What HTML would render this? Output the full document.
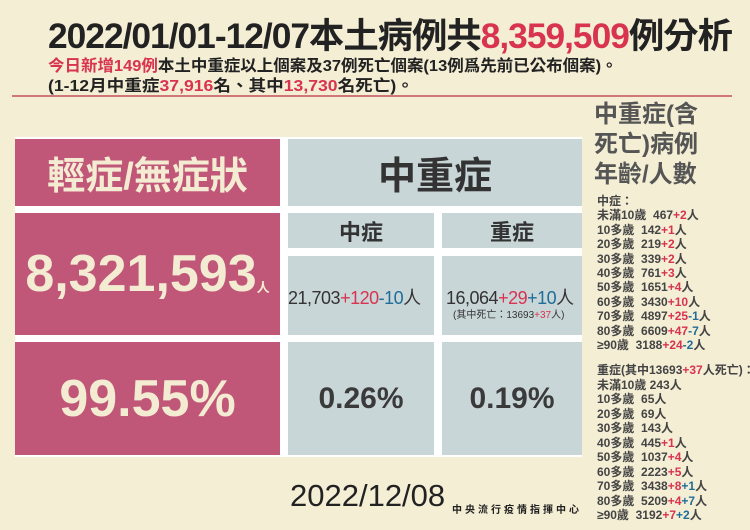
<!DOCTYPE html>
<html><head><meta charset="utf-8"><style>
*{margin:0;padding:0;box-sizing:border-box}
body{width:750px;height:530px;background:#f4eed5;position:relative;overflow:hidden;font-family:"Liberation Sans","Noto Sans CJK TC",sans-serif;color:#222}
.a{position:absolute;white-space:nowrap}
.r{color:#d8334f}.b{color:#1f6d99}
.pk{position:absolute;background:#c05678}
.gy{position:absolute;background:#c9d6d8}
.wh{position:absolute;background:#fff}
.c{display:flex;align-items:center;justify-content:center}
.L{font-family:"Liberation Sans","Noto Sans CJK TC",sans-serif;font-weight:bold}
</style></head><body>
<div class="a L" style="left:48px;top:8px;font-size:35px;letter-spacing:-1px;transform:scaleX(1.01);transform-origin:left">2022/01/01-12/07本土病例共<span class="r">8,359,509</span>例分析</div>
<div class="a L" style="left:48px;top:52px;font-size:16px;transform:scaleX(1.03);transform-origin:left"><span class="r">今日新增149例</span>本土中重症以上個案及37例死亡個案(13例爲先前已公布個案)。</div>
<div class="a L" style="left:48px;top:72px;font-size:16px;transform:scaleX(1.1);transform-origin:left">(1-12月中重症<span class="r">37,916</span>名、其中<span class="r">13,730</span>名死亡)。</div>
<div class="a" style="left:12px;top:95px;width:720px;height:2px;background:#d07878"></div>

<div class="wh" style="left:15px;top:137px;width:567px;height:320px"></div>
<div class="pk c" style="left:15px;top:139px;width:265px;height:67px;color:#f4ecd2;font-size:38px;font-weight:bold">輕症/無症狀</div>
<div class="pk c" style="left:15px;top:213px;width:265px;height:122px;color:#f4ecd2;font-weight:bold"><span style="font-size:52px">8,321,593</span><span style="font-size:13px;margin-top:24px">人</span></div>
<div class="pk c" style="left:15px;top:342px;width:265px;height:113px;color:#f4ecd2;font-size:52px;font-weight:bold">99.55%</div>

<div class="gy c" style="left:288px;top:139px;width:294px;height:67px;font-size:38px;font-weight:bold;color:#333">中重症</div>
<div class="gy c" style="left:288px;top:213px;width:146px;height:35px;font-size:22px;font-weight:bold;color:#333">中症</div>
<div class="gy c" style="left:442px;top:213px;width:140px;height:35px;font-size:22px;font-weight:bold;color:#333">重症</div>
<div class="gy" style="left:288px;top:256px;width:146px;height:79px"></div>
<div class="gy" style="left:442px;top:256px;width:140px;height:79px"></div>
<div class="a" style="left:288px;top:284px;font-size:18px;color:#333;letter-spacing:-0.5px">21,703<span class="r">+120</span><span class="b">-10</span>人</div>
<div class="a" style="left:446px;top:284px;font-size:18px;color:#333;letter-spacing:-0.5px">16,064<span class="r">+29</span><span class="b">+10</span>人</div>
<div class="a" style="left:453px;top:306px;font-size:10px;color:#333">(其中死亡：13693<span class="r">+37</span>人)</div>
<div class="gy c" style="left:288px;top:342px;width:146px;height:113px;font-size:30px;font-weight:bold;color:#3a3a3a">0.26%</div>
<div class="gy c" style="left:442px;top:342px;width:140px;height:113px;font-size:30px;font-weight:bold;color:#3a3a3a">0.19%</div>

<div class="a L" style="left:594px;top:100px;font-size:24px;line-height:30px;color:#555">中重症(含<br>死亡)病例<br>年齡/人數</div>
<div class="a L" style="left:597px;top:194px;font-size:12px;line-height:14.4px;color:#444">中症：<br>未滿10歲&nbsp; 467<span class="r">+2</span>人<br>10多歲&nbsp; 142<span class="r">+1</span>人<br>20多歲&nbsp; 219<span class="r">+2</span>人<br>30多歲&nbsp; 339<span class="r">+2</span>人<br>40多歲&nbsp; 761<span class="r">+3</span>人<br>50多歲&nbsp; 1651<span class="r">+4</span>人<br>60多歲&nbsp; 3430<span class="r">+10</span>人<br>70多歲&nbsp; 4897<span class="r">+25</span><span class="b">-1</span>人<br>80多歲&nbsp; 6609<span class="r">+47</span><span class="b">-7</span>人<br>≥90歲&nbsp; 3188<span class="r">+24</span><span class="b">-2</span>人</div>
<div class="a L" style="left:597px;top:363px;font-size:12px;line-height:14.5px;color:#444">重症(其中13693<span class="r">+37</span>人死亡)：<br>未滿10歲 243人<br>10多歲&nbsp; 65人<br>20多歲&nbsp; 69人<br>30多歲&nbsp; 143人<br>40多歲&nbsp; 445<span class="r">+1</span>人<br>50多歲&nbsp; 1037<span class="r">+4</span>人<br>60多歲&nbsp; 2223<span class="r">+5</span>人<br>70多歲&nbsp; 3438<span class="r">+8</span><span class="b">+1</span>人<br>80多歲&nbsp; 5209<span class="r">+4</span><span class="b">+7</span>人<br>≥90歲&nbsp; 3192<span class="r">+7</span><span class="b">+2</span>人</div>

<div class="a" style="left:290px;top:478px;font-size:31px;color:#222">2022/12/08</div>
<div class="a" style="left:452px;top:501px;font-size:10px;letter-spacing:3px;color:#222;font-weight:bold">中央流行疫情指揮中心</div>
</body></html>
